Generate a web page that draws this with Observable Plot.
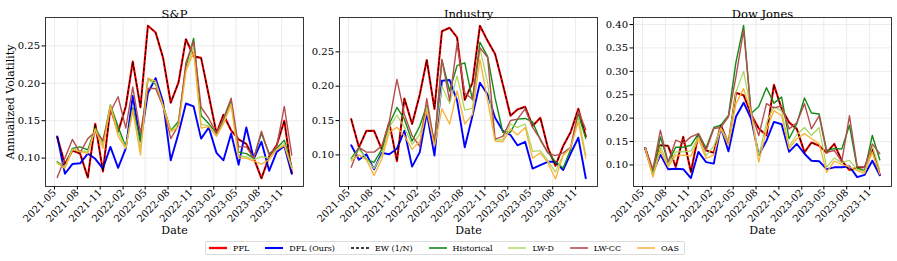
<!DOCTYPE html>
<html>
<head>
<meta charset="utf-8">
<script src="https://cdn.jsdelivr.net/npm/d3@7"></script>
<script src="https://cdn.jsdelivr.net/npm/@observablehq/plot@0.6"></script>
<style>
  body { margin: 0; background: #fff; }
  #wrap { position: relative; width: 897px; height: 261px; font-family: "DejaVu Serif", serif; overflow: hidden; }
  .panel { position: absolute; top: 0; }
  #legend { position: absolute; left: 205px; top: 241px; height: 14px; box-sizing: border-box; border: 1px solid #dcdcdc; border-radius: 2px;
            display: flex; align-items: center; padding: 0 3px; font-size: 8px; color: #000; background: #fff; white-space: nowrap; }
  .item { display: flex; align-items: center; margin-right: 16px; }
  .item:last-child { margin-right: 2px; }
  .item svg { margin-right: 6px; }
</style>
</head>
<body>
<div id="wrap"></div>
<script>
// ---- Data ----
const dates = ["2021-05-12","2021-06-12","2021-07-12","2021-08-12","2021-09-12","2021-10-12","2021-11-12","2021-12-12",
  "2022-01-12","2022-02-12","2022-03-12","2022-04-12","2022-05-12","2022-06-12","2022-07-12","2022-08-12",
  "2022-09-12","2022-10-12","2022-11-12","2022-12-12","2023-01-12","2023-02-12","2023-03-12","2023-04-12",
  "2023-05-12","2023-06-12","2023-07-12","2023-08-12","2023-09-12","2023-10-12","2023-11-12","2023-12-12"];
const xTickLabels = ["2021-05","2021-08","2021-11","2022-02","2022-05","2022-08","2022-11","2023-02","2023-05","2023-08","2023-11"];
const panelTitles = ["S&P","Industry","Dow Jones"];
const seriesNames = ["PFL","DFL (Ours)","EW (1/N)","Historical","LW-D","LW-CC","OAS"];
const seriesColors = ["#ff0000","#0000ff","#000000","#138a13","#a8d65a","#b44e4e","#f9b233"];

// S&P
const sp_pfl  = [0.128,0.092,0.110,0.106,0.074,0.146,0.082,0.167,0.135,0.169,0.229,0.168,0.277,0.268,0.234,0.174,0.201,0.259,0.236,0.234,0.184,0.133,0.158,0.137,0.125,0.119,0.100,0.073,0.102,0.117,0.150,0.080];
const sp_dfl  = [0.129,0.079,0.092,0.093,0.106,0.099,0.086,0.115,0.087,0.113,0.183,0.122,0.187,0.207,0.175,0.097,0.133,0.173,0.169,0.126,0.141,0.107,0.097,0.133,0.091,0.141,0.099,0.122,0.083,0.108,0.116,0.079];
const sp_ew   = [0.128,0.092,0.110,0.106,0.074,0.146,0.082,0.167,0.135,0.169,0.229,0.168,0.277,0.268,0.234,0.174,0.201,0.259,0.236,0.234,0.184,0.133,0.158,0.137,0.125,0.119,0.100,0.073,0.102,0.117,0.150,0.080];
const sp_hist = [0.095,0.088,0.113,0.115,0.111,0.140,0.122,0.171,0.142,0.115,0.167,0.123,0.206,0.199,0.171,0.137,0.149,0.222,0.260,0.157,0.146,0.133,0.151,0.176,0.108,0.106,0.100,0.133,0.106,0.113,0.124,0.088];
const sp_lwd  = [0.094,0.088,0.112,0.110,0.108,0.139,0.118,0.170,0.135,0.114,0.165,0.112,0.205,0.200,0.170,0.136,0.146,0.218,0.250,0.145,0.143,0.130,0.148,0.173,0.103,0.102,0.098,0.102,0.100,0.112,0.120,0.087];
const sp_lwcc = [0.074,0.100,0.125,0.107,0.126,0.135,0.124,0.162,0.182,0.140,0.195,0.133,0.193,0.193,0.169,0.126,0.144,0.228,0.256,0.168,0.153,0.133,0.153,0.180,0.115,0.115,0.100,0.136,0.104,0.115,0.169,0.104];
const sp_oas  = [0.093,0.086,0.111,0.109,0.106,0.138,0.113,0.170,0.129,0.113,0.164,0.104,0.207,0.203,0.169,0.135,0.142,0.216,0.242,0.140,0.142,0.129,0.146,0.171,0.100,0.100,0.096,0.092,0.098,0.111,0.117,0.086];

// Industry
const in_pfl  = [0.152,0.111,0.135,0.135,0.108,0.147,0.091,0.182,0.145,0.188,0.238,0.167,0.280,0.285,0.271,0.180,0.205,0.288,0.266,0.247,0.203,0.157,0.166,0.170,0.142,0.154,0.111,0.084,0.113,0.133,0.167,0.127];
const in_dfl  = [0.114,0.093,0.101,0.079,0.103,0.101,0.109,0.135,0.083,0.104,0.161,0.099,0.208,0.209,0.179,0.111,0.157,0.205,0.188,0.154,0.135,0.129,0.114,0.119,0.080,0.085,0.090,0.090,0.078,0.102,0.125,0.066];
const in_ew   = [0.152,0.111,0.135,0.135,0.108,0.147,0.091,0.182,0.145,0.188,0.238,0.167,0.280,0.285,0.271,0.180,0.205,0.288,0.266,0.247,0.203,0.157,0.166,0.170,0.142,0.154,0.111,0.084,0.113,0.133,0.167,0.127];
const in_hist = [0.095,0.111,0.093,0.089,0.108,0.145,0.169,0.152,0.120,0.142,0.172,0.118,0.238,0.193,0.230,0.234,0.180,0.264,0.243,0.183,0.133,0.133,0.152,0.153,0.148,0.122,0.104,0.090,0.081,0.108,0.159,0.124];
const in_lwd  = [0.093,0.108,0.095,0.080,0.100,0.140,0.158,0.140,0.115,0.130,0.170,0.115,0.200,0.175,0.215,0.165,0.168,0.255,0.205,0.122,0.122,0.145,0.140,0.145,0.105,0.106,0.092,0.075,0.100,0.110,0.155,0.100];
const in_lwcc = [0.082,0.111,0.104,0.104,0.113,0.148,0.210,0.159,0.128,0.112,0.182,0.115,0.239,0.179,0.262,0.190,0.181,0.256,0.242,0.123,0.127,0.150,0.152,0.167,0.140,0.123,0.103,0.099,0.103,0.111,0.164,0.137];
const in_oas  = [0.091,0.100,0.093,0.070,0.094,0.133,0.140,0.128,0.108,0.120,0.164,0.113,0.167,0.145,0.193,0.145,0.159,0.239,0.179,0.120,0.119,0.138,0.129,0.140,0.095,0.103,0.089,0.065,0.099,0.111,0.148,0.095];

// Dow Jones
const dj_pfl  = [0.136,0.081,0.142,0.141,0.096,0.160,0.085,0.165,0.131,0.126,0.185,0.146,0.254,0.249,0.208,0.178,0.163,0.271,0.220,0.191,0.177,0.127,0.148,0.141,0.126,0.145,0.109,0.089,0.094,0.095,0.134,0.079];
const dj_dfl  = [0.136,0.084,0.122,0.091,0.092,0.091,0.072,0.128,0.106,0.103,0.181,0.129,0.203,0.233,0.199,0.121,0.152,0.192,0.187,0.128,0.145,0.124,0.109,0.108,0.091,0.095,0.095,0.097,0.074,0.079,0.109,0.078];
const dj_ew   = [0.136,0.081,0.142,0.141,0.096,0.160,0.085,0.165,0.131,0.126,0.185,0.146,0.254,0.249,0.208,0.178,0.163,0.271,0.220,0.191,0.177,0.127,0.148,0.141,0.126,0.145,0.109,0.089,0.094,0.095,0.134,0.079];
const dj_hist = [0.136,0.085,0.160,0.106,0.138,0.138,0.142,0.167,0.136,0.180,0.185,0.206,0.319,0.398,0.210,0.225,0.265,0.232,0.245,0.156,0.188,0.243,0.211,0.209,0.131,0.135,0.134,0.185,0.093,0.088,0.163,0.111];
const dj_lwd  = [0.136,0.078,0.140,0.100,0.128,0.128,0.130,0.160,0.120,0.140,0.180,0.150,0.255,0.300,0.215,0.120,0.190,0.225,0.215,0.140,0.165,0.180,0.163,0.180,0.095,0.115,0.105,0.110,0.090,0.086,0.140,0.090];
const dj_lwcc = [0.136,0.091,0.174,0.106,0.153,0.146,0.160,0.167,0.131,0.178,0.180,0.203,0.288,0.388,0.213,0.163,0.231,0.222,0.226,0.177,0.190,0.231,0.177,0.205,0.127,0.131,0.107,0.205,0.097,0.095,0.145,0.124];
const dj_oas  = [0.136,0.074,0.131,0.096,0.121,0.121,0.119,0.156,0.114,0.121,0.178,0.142,0.231,0.263,0.213,0.106,0.175,0.216,0.205,0.135,0.156,0.167,0.156,0.145,0.084,0.108,0.101,0.096,0.088,0.082,0.127,0.080];

const spYTicks = [0.10,0.15,0.20,0.25];
const inYTicks = [0.10,0.15,0.20,0.25];
const djYTicks = [0.10,0.15,0.20,0.25,0.30,0.35,0.40];

// ---- Build ----
const parse = d3.utcParse("%Y-%m-%d");
const xDates = dates.map(parse);
const xTicks = xTickLabels.map(s => parse(s + "-01"));
const t0 = +xDates[0], t1 = +xDates[xDates.length - 1], pad = (t1 - t0) * 0.05;
const xDomain = [new Date(t0 - pad), new Date(t1 + pad)];

const styles = [
  {strokeWidth: 2.1},
  {strokeWidth: 1.9},
  {strokeWidth: 1.0, strokeDasharray: "3,2.5"},
  {strokeWidth: 1.4},
  {strokeWidth: 1.2},
  {strokeWidth: 1.4},
  {strokeWidth: 1.3}
];

function panel({title, series, yDomain, yTicks, left, width, mLeft, mRight, yLabel}) {
  const marks = [
    Plot.gridX({ticks: xTicks, stroke: "#b0b0b0", strokeOpacity: 0.3, strokeWidth: 0.8}),
    Plot.gridY({ticks: yTicks, stroke: "#b0b0b0", strokeOpacity: 0.3, strokeWidth: 0.8}),
  ];
  series.forEach((arr, i) => {
    const rows = arr.map((v, j) => ({date: xDates[j], value: v}));
    marks.push(Plot.line(rows, {x: "date", y: "value", stroke: seriesColors[i], ...styles[i]}));
  });
  marks.push(
    Plot.frame({stroke: "#222", strokeWidth: 0.9}),
    Plot.axisX({ticks: xTicks, tickFormat: d3.utcFormat("%Y-%m"), tickRotate: -45, tickSize: 3.5, tickPadding: 1, label: null, fontSize: 10}),
    Plot.axisY({ticks: yTicks, tickFormat: d3.format(".2f"), tickSize: 3.5, tickPadding: 2, label: null, fontSize: 10}),
    Plot.text([title], {frameAnchor: "top", dy: -8, fontSize: 11.5}),
    Plot.text(["Date"], {frameAnchor: "bottom", dy: 47, fontSize: 11})
  );
  if (yLabel) marks.push(Plot.text([yLabel], {frameAnchor: "left", dx: -35, rotate: -90, textAnchor: "middle", fontSize: 11}));
  const svg = Plot.plot({
    width, height: 240,
    marginLeft: mLeft, marginRight: mRight, marginTop: 17, marginBottom: 54,
    style: {fontFamily: "DejaVu Serif, serif", fontSize: "10px", color: "#000", background: "transparent", overflow: "visible"},
    x: {type: "utc", domain: xDomain},
    y: {domain: yDomain},
    marks
  });
  svg.classList.add("panel");
  svg.style.left = left + "px";
  return svg;
}

const wrap = document.getElementById("wrap");
wrap.appendChild(panel({title: panelTitles[0], series: [sp_pfl, sp_dfl, sp_ew, sp_hist, sp_lwd, sp_lwcc, sp_oas],
  yDomain: [0.062, 0.288], yTicks: spYTicks, left: 0, width: 306, mLeft: 45, mRight: 3, yLabel: "Annualized Volatility"}));
wrap.appendChild(panel({title: panelTitles[1], series: [in_pfl, in_dfl, in_ew, in_hist, in_lwd, in_lwcc, in_oas],
  yDomain: [0.054, 0.300], yTicks: inYTicks, left: 306, width: 294, mLeft: 33, mRight: 3}));
wrap.appendChild(panel({title: panelTitles[2], series: [dj_pfl, dj_dfl, dj_ew, dj_hist, dj_lwd, dj_lwcc, dj_oas],
  yDomain: [0.054, 0.415], yTicks: djYTicks, left: 600, width: 297, mLeft: 33, mRight: 6}));

// Legend
const legend = document.createElement("div");
legend.id = "legend";
seriesNames.forEach((name, i) => {
  const item = document.createElement("div");
  item.className = "item";
  const dash = styles[i].strokeDasharray ? `stroke-dasharray="3,2"` : "";
  const w = styles[i].strokeDasharray ? 1.3 : styles[i].strokeWidth + 0.2;
  item.innerHTML = `<svg width="18" height="6"><line x1="0" x2="18" y1="3" y2="3" stroke="${seriesColors[i]}" stroke-width="${w}" ${dash}/></svg><span>${name}</span>`;
  legend.appendChild(item);
});
wrap.appendChild(legend);
</script>
</body>
</html>
